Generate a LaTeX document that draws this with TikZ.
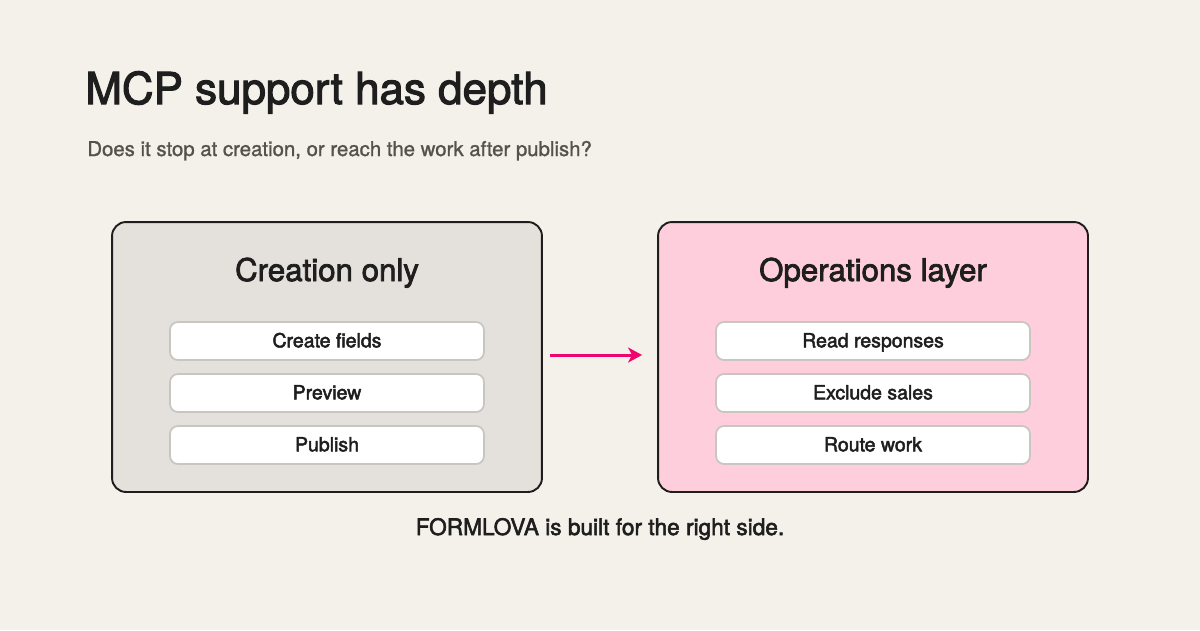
\documentclass[tikz,border=0pt]{standalone}
\usepackage{fontspec}
\setmainfont{TeX Gyre Heros}
\newfontfamily\medfont{TeX Gyre Heros}[FakeBold=2.4]
\newfontfamily\lightmed{TeX Gyre Heros}[FakeBold=1.2]
\usetikzlibrary{arrows.meta,positioning}
\definecolor{pagebg}{HTML}{F4F1EA}
\definecolor{creafill}{HTML}{E4E1DC}
\definecolor{opsfill}{HTML}{FFCEDC}
\definecolor{formpink}{HTML}{F0046E}
\definecolor{inkdark}{HTML}{1E1E1E}
\definecolor{inkgray}{HTML}{55524D}
\definecolor{itemline}{HTML}{C9C6C2}

\begin{document}
\begin{tikzpicture}[x=0.02cm,y=-0.02cm,
  panel/.style={draw=inkdark,line width=1.1pt,rounded corners=8pt,minimum width=8.6cm,minimum height=5.4cm,inner sep=0pt},
  ptitle/.style={font=\medfont\fontsize{17.8}{20}\selectfont,text=inkdark,inner sep=0pt,anchor=base},
  item/.style={draw=itemline,line width=1pt,fill=white,rounded corners=4.5pt,minimum width=6.28cm,minimum height=0.76cm,inner sep=0pt,text height=0.9em,text depth=0.18em,font=\medfont\fontsize{11.1}{13}\selectfont,text=inkdark},
  flow/.style={-{Stealth[length=2.8mm,width=3mm,inset=0.8mm]},line width=1.7pt,formpink}]
\useasboundingbox[fill=pagebg] (0,0) rectangle (1200,630);
% Heading
\node[anchor=base west,inner sep=0pt,font=\medfont\fontsize{25}{30}\selectfont,text=inkdark] (head) at (85,104) {MCP support has depth};
\node[anchor=base west,inner sep=0pt,font=\lightmed\fontsize{11.6}{14}\selectfont,text=inkgray] (sub) at (87,156) {Does it stop at creation, or reach the work after publish?};
% Panels
\node[panel,fill=creafill] (crea) at (327,357) {};
\node[panel,fill=opsfill] (ops) at (873,357) {};
\node[ptitle] (creat) at (327,281) {Creation only};
\node[ptitle] (opst) at (873,281) {Operations layer};
% Steps inside each panel
\foreach \t [count=\i] in {Create fields,Preview,Publish}
  \node[item] (c\i) at (327,289+52*\i) {\t};
\foreach \t [count=\i] in {Read responses,Exclude sales,Route work}
  \node[item] (o\i) at (873,289+52*\i) {\t};
% Arrow left -> right
\draw[flow,shorten <=0.14cm,shorten >=0.3cm] ([yshift=0.04cm]crea.east) -- ([yshift=0.04cm]ops.west);
% Footer
\node[anchor=base,inner sep=0pt,font=\medfont\fontsize{12.9}{15}\selectfont,text=inkdark] (foot) at (600,535) {FORMLOVA is built for the right side.};
\end{tikzpicture}
\end{document}
